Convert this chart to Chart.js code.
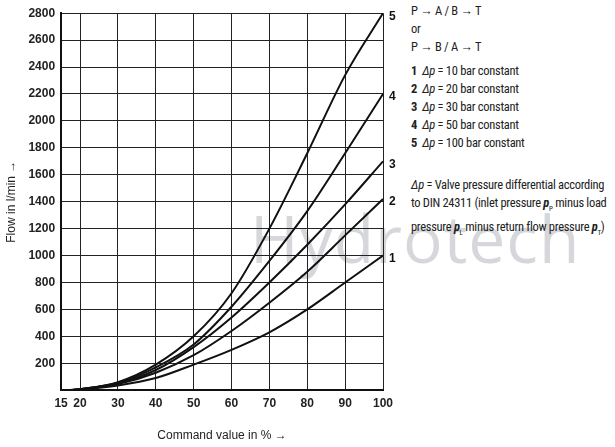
<!DOCTYPE html>
<html><head><meta charset="utf-8">
<script src="https://cdn.jsdelivr.net/npm/chart.js@4"></script>
<style>
body{margin:0;background:#fff;font-family:"Roboto Condensed","Liberation Sans Narrow",Roboto,sans-serif;}
#wrap{position:absolute;left:0;top:0;width:400px;height:447px;}
#side{position:absolute;left:411px;top:2px;font-size:12.5px;color:#222;line-height:18px;letter-spacing:-0.3px}
#side p{margin:0}
#side i{font-style:italic}
#wm{position:absolute;left:250px;top:192px;font-size:66px;color:rgba(150,155,165,0.4);font-family:"Open Sans",sans-serif;letter-spacing:1px}
</style></head><body>
<div id="wm">Hydrotech</div>
<div id="wrap"><canvas id="c" width="400" height="447"></canvas></div>
<div id="side">
<p>P → A / B → T</p><p>or</p><p>P → B / A → T</p>
<p style="margin-top:6px"><b>1</b>&nbsp; <i>Δp</i> = 10 bar constant</p>
<p><b>2</b>&nbsp; <i>Δp</i> = 20 bar constant</p>
<p><b>3</b>&nbsp; <i>Δp</i> = 30 bar constant</p>
<p><b>4</b>&nbsp; <i>Δp</i> = 50 bar constant</p>
<p><b>5</b>&nbsp; <i>Δp</i> = 100 bar constant</p>
<p style="margin-top:24px"><i>Δp</i> = Valve pressure differential according<br>to DIN 24311 (inlet pressure <b><i>p</i></b><sub style="font-size:7px">P</sub> minus load<br>pressure <b><i>p</i></b><sub style="font-size:7px">L</sub> minus return flow pressure <b><i>p</i></b><sub style="font-size:7px">T</sub>)</p>
</div>
<script>
var xTicks = [15, 20, 30, 40, 50, 60, 70, 80, 90, 100];
var curve1 = [[17,0],[20,5],[30,35],[40,90],[50,190],[60,300],[70,430],[80,600],[90,800],[100,1000]];
var curve2 = [[17,0],[20,6],[30,45],[40,130],[50,260],[60,440],[70,650],[80,880],[90,1150],[100,1420]];
var curve3 = [[17,0],[20,7],[30,50],[40,150],[50,320],[60,540],[70,800],[80,1080],[90,1380],[100,1700]];
var curve4 = [[17,0],[20,8],[30,55],[40,170],[50,340],[60,620],[70,960],[80,1330],[90,1760],[100,2200]];
var curve5 = [[17,0],[20,8],[30,60],[40,190],[50,400],[60,720],[70,1200],[80,1760],[90,2340],[100,2800]];
var curveLabels = ["1", "2", "3", "4", "5"];

function ds(arr){
  return {data: arr.map(function(p){return {x:p[0], y:p[1]};}),
    borderColor:"#111", borderWidth:2, pointRadius:0, tension:0.4, cubicInterpolationMode:"monotone", fill:false};
}
var endLabels = {
  id:"endLabels",
  afterDatasetsDraw:function(chart){
    var ctx = chart.ctx;
    ctx.save();
    ctx.font = "bold 12px 'Liberation Sans',sans-serif";
    ctx.fillStyle = "#111";
    ctx.textBaseline = "middle";
    chart.data.datasets.forEach(function(d, i){
      var last = d.data[d.data.length-1];
      var px = chart.scales.x.getPixelForValue(last.x) + 6;
      var py = chart.scales.y.getPixelForValue(last.y) + 3;
      if (py < 10) py = 10;
      ctx.fillText(curveLabels[i], px, py);
    });
    ctx.restore();
  }
};
new Chart(document.getElementById("c").getContext("2d"), {
  type:"line",
  data:{datasets:[ds(curve1), ds(curve2), ds(curve3), ds(curve4), ds(curve5)]},
  options:{
    responsive:false, animation:false,
    layout:{padding:{top:5, right:17}},
    plugins:{legend:{display:false}, tooltip:{enabled:false}},
    scales:{
      x:{type:"linear", min:15, max:100,
        afterBuildTicks:function(s){ s.ticks = xTicks.map(function(v){return {value:v};}); },
        grid:{color:"#222", lineWidth:1, drawTicks:false},
        border:{color:"#111", width:2},
        ticks:{color:"#222", font:{size:12, weight:"bold", family:"'Liberation Sans',sans-serif"}, padding:6, maxRotation:0, autoSkip:false},
        title:{display:true, text:"Command value in % →", color:"#222", font:{size:12}, padding:{top:12}}
      },
      y:{min:0, max:2800,
        ticks:{stepSize:200, color:"#222", font:{size:12, weight:"bold", family:"'Liberation Sans',sans-serif"}, padding:6,
          callback:function(v){return v === 0 ? "" : v;}},
        grid:{color:"#222", lineWidth:1, drawTicks:false},
        border:{color:"#111", width:2},
        title:{display:true, text:"Flow in l/min →", color:"#222", font:{size:12}}
      }
    }
  },
  plugins:[endLabels]
});
</script>
</body></html>
